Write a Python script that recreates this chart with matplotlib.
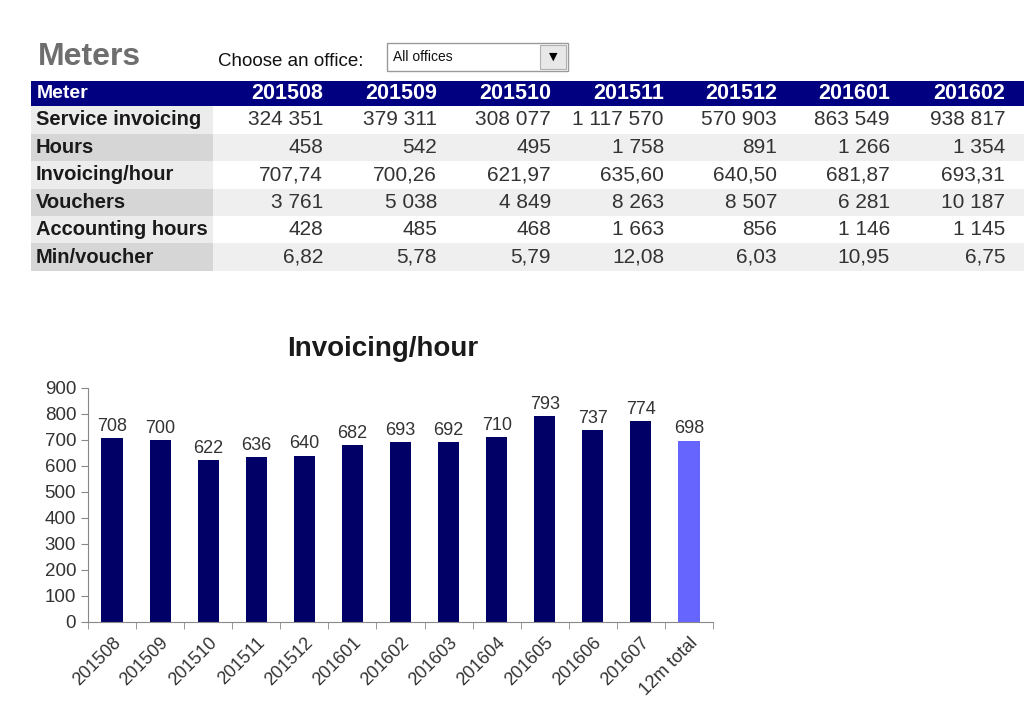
import matplotlib
matplotlib.use("Agg")
import matplotlib.pyplot as plt
from matplotlib.patches import Rectangle

plt.rcParams['font.family'] = ['Liberation Sans', 'DejaVu Sans']

# table data
months = ["201508", "201509", "201510", "201511", "201512", "201601", "201602"]
row_names = ["Service invoicing", "Hours", "Invoicing/hour", "Vouchers",
             "Accounting hours", "Min/voucher"]
service_invoicing = ["324 351", "379 311", "308 077", "1 117 570", "570 903", "863 549", "938 817"]
hours = ["458", "542", "495", "1 758", "891", "1 266", "1 354"]
invoicing_hour = ["707,74", "700,26", "621,97", "635,60", "640,50", "681,87", "693,31"]
vouchers = ["3 761", "5 038", "4 849", "8 263", "8 507", "6 281", "10 187"]
accounting_hours = ["428", "485", "468", "1 663", "856", "1 146", "1 145"]
min_voucher = ["6,82", "5,78", "5,79", "12,08", "6,03", "10,95", "6,75"]
table_rows = [service_invoicing, hours, invoicing_hour, vouchers, accounting_hours, min_voucher]

# chart data
periods = ["201508", "201509", "201510", "201511", "201512", "201601", "201602",
           "201603", "201604", "201605", "201606", "201607", "12m total"]
values = [708, 700, 622, 636, 640, 682, 693, 692, 710, 793, 737, 774, 698]

W, H = 1024, 728
fig = plt.figure(figsize=(W / 100, H / 100), dpi=100)


def fx(x):
    return x / W


def fy(y):
    return 1 - y / H


def rect(x0, y0, x1, y1, **kw):
    fig.patches.append(Rectangle((fx(x0), fy(y1)), fx(x1) - fx(x0), fy(y0) - fy(y1),
                                 transform=fig.transFigure, figure=fig, **kw))


navy = "#000080"

# title + dropdown
fig.text(fx(38), fy(57), "Meters", fontsize=23, fontweight="bold", color="#6e6e6e",
         va="center")
fig.text(fx(218), fy(61), "Choose an office:", fontsize=13.5, color="#111111", va="center")
rect(387, 43, 568, 71, facecolor="white", edgecolor="#9a9a9a", lw=1)
rect(540, 45, 566, 69, facecolor="#e8e8e8", edgecolor="#b0b0b0", lw=0.8)
fig.text(fx(393), fy(57), "All offices", fontsize=10, color="#111111", va="center")
fig.text(fx(553), fy(57), "\u25BC", fontsize=8, color="black", va="center", ha="center",
         family=['DejaVu Sans'])

# table
col_right = [323, 437, 551, 664, 777, 890, 1005]
top, head_h, row_h = 81, 25, 27.5
rect(31, top, 1024, top + head_h, facecolor=navy, edgecolor="none")
fig.text(fx(37), fy(top + head_h / 2), "Meter", fontsize=14, fontweight="bold",
         color="white", va="center")
for m, xr in zip(months, col_right):
    fig.text(fx(xr), fy(top + head_h / 2), m, fontsize=15.5, fontweight="bold",
             color="white", va="center", ha="right")

for i, (name, vals) in enumerate(zip(row_names, table_rows)):
    y0 = top + head_h + i * row_h
    y1 = y0 + row_h
    odd = i % 2 == 1
    rect(31, y0, 213, y1, facecolor="#d6d6d6" if odd else "#ececec", edgecolor="none")
    rect(213, y0, 1024, y1, facecolor="#efefef" if odd else "white", edgecolor="none")
    yc = fy((y0 + y1) / 2)
    fig.text(fx(36), yc, name, fontsize=14.5, fontweight="bold", color="#1a1a1a", va="center")
    for v, xr in zip(vals, col_right):
        fig.text(fx(xr), yc, v, fontsize=15, color="#333333", va="center", ha="right")

# chart
ax = fig.add_axes([fx(88), fy(622), fx(713) - fx(88), fy(388) - fy(622)])
colors = ["#000066" if p != "12m total" else "#6666ff" for p in periods]
xs = range(len(periods))
ax.bar(xs, values, width=0.44, color=colors)
for x, v in zip(xs, values):
    ax.text(x, v + 12, str(v), ha="center", va="bottom", fontsize=13, color="#333333")

ax.set_xlim(-0.5, len(periods) - 0.5)
ax.set_ylim(0, 900)
ax.set_yticks(range(0, 901, 100))
ax.set_xticks(list(xs))
ax.set_xticklabels(periods, rotation=45, ha="right", rotation_mode="anchor",
                   fontsize=13, color="#333333")
ax.set_xticks([i - 0.5 for i in range(len(periods) + 1)], minor=True)
ax.tick_params(axis="x", which="major", length=0, pad=9)
ax.tick_params(axis="x", which="minor", length=5, color="#888888", direction="out")
ax.tick_params(axis="y", length=5, color="#888888", labelsize=13.5, labelcolor="#333333")
for s in ["top", "right"]:
    ax.spines[s].set_visible(False)
for s in ["left", "bottom"]:
    ax.spines[s].set_color("#888888")

fig.text(fx(383), fy(349), "Invoicing/hour", fontsize=20, fontweight="bold",
         color="#1a1a1a", ha="center", va="center")

fig.savefig("out.png", dpi=100)
